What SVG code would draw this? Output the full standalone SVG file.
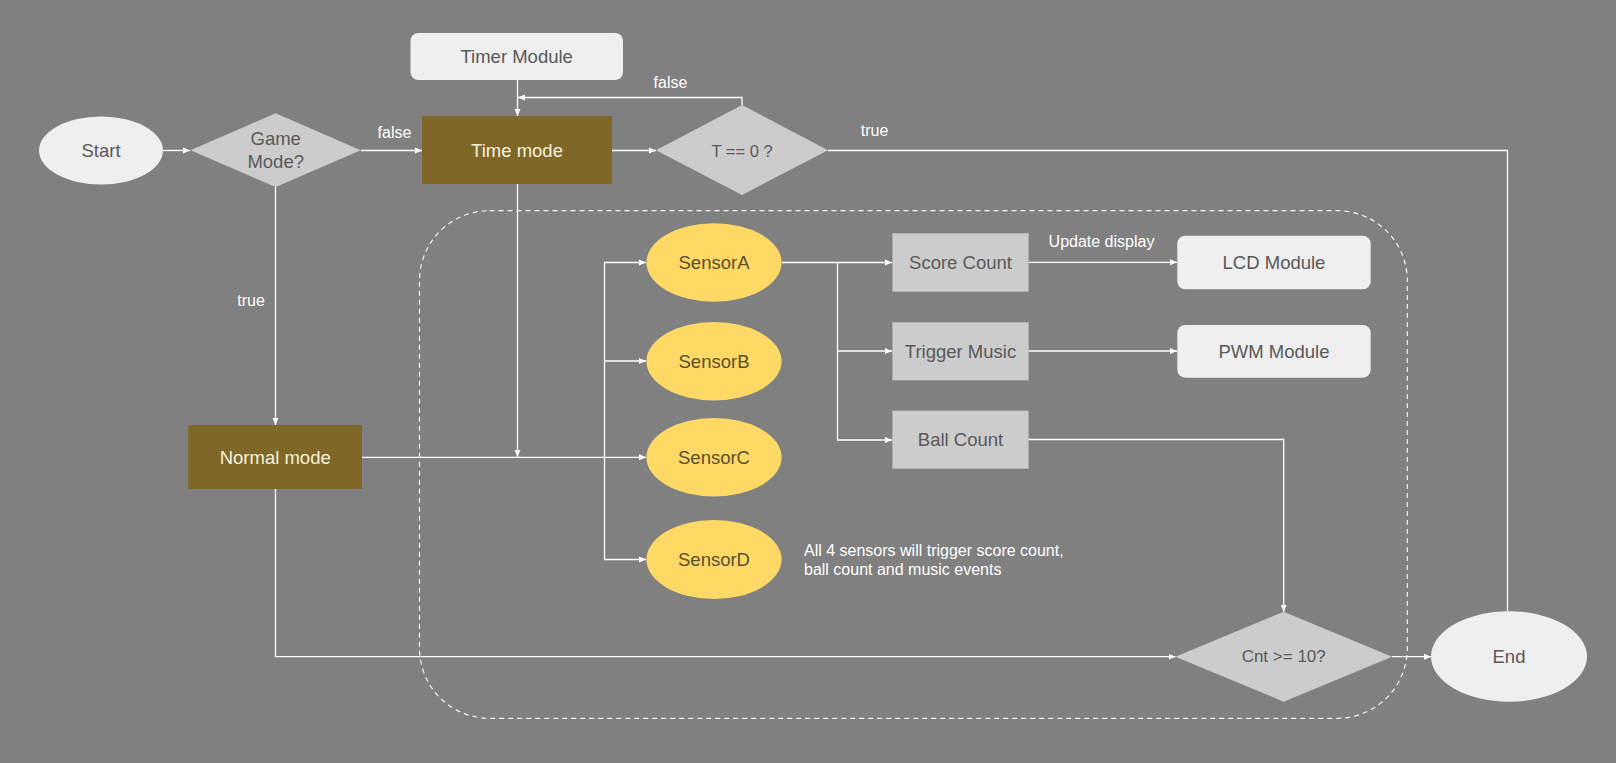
<svg xmlns="http://www.w3.org/2000/svg" width="1616" height="763" viewBox="0 0 1616 763">
<defs>
<marker id="arr" markerUnits="userSpaceOnUse" markerWidth="8" markerHeight="8" viewBox="0 0 8 8" refX="7" refY="4" orient="auto">
<path d="M0,1 L7,4 L0,7 Z" fill="#ffffff"/>
</marker>
<style>
.c{fill:none;stroke:#ffffff;stroke-width:1.3}
.t{font-family:"Liberation Sans",Arial,sans-serif;text-anchor:middle;dominant-baseline:central}
.lbl{font-family:"Liberation Sans",Arial,sans-serif;font-size:16px;fill:#ffffff}
.light{fill:#efefef}
.gray{fill:#cccccc}
.brown{fill:#7f6728}
.sensor{fill:#ffd966}
.dk{fill:#595959;font-size:18.5px}
.cream{fill:#f7f2dc;font-size:18.5px}
.sn{fill:#594f33;font-size:18.5px}
</style>
</defs>
<rect width="1616" height="763" fill="#808080"/>
<rect x="419.5" y="210.7" width="987.8" height="507.6" rx="70" ry="70" fill="none" stroke="#f2f2f2" stroke-width="1.2" stroke-dasharray="5,4"/>

<g id="connectors">
<path class="c" d="M163 150.5 H190" marker-end="url(#arr)"/>
<path class="c" d="M361 150.5 L422 150.5" marker-end="url(#arr)"/>
<path class="c" d="M517.5 80 V116" marker-end="url(#arr)"/>
<path class="c" d="M612 150.5 H656" marker-end="url(#arr)"/>
<path class="c" d="M742 105 V97.5 H518" marker-end="url(#arr)"/>
<path class="c" d="M828 150.5 H1507.5 V611"/>
<path class="c" d="M275.5 187 V425" marker-end="url(#arr)"/>
<path class="c" d="M517.5 184 V457" marker-end="url(#arr)"/>
<path class="c" d="M362 457.3 H646" marker-end="url(#arr)"/>
<path class="c" d="M604.5 457.3 V262.5 H646" marker-end="url(#arr)"/>
<path class="c" d="M604.5 361 H646" marker-end="url(#arr)"/>
<path class="c" d="M604.5 457.3 V559.5 H646" marker-end="url(#arr)"/>
<path class="c" d="M782 262.5 H892" marker-end="url(#arr)"/>
<path class="c" d="M837.5 262.5 V440 H892" marker-end="url(#arr)"/>
<path class="c" d="M837.5 351 H892" marker-end="url(#arr)"/>
<path class="c" d="M1028.6 262.3 H1177" marker-end="url(#arr)"/>
<path class="c" d="M1028.6 351 H1177" marker-end="url(#arr)"/>
<path class="c" d="M1028.6 439.5 H1283.7 V611.7" marker-end="url(#arr)"/>
<path class="c" d="M275.5 489 V656.7 H1175.5" marker-end="url(#arr)"/>
<path class="c" d="M1392 656.7 H1431" marker-end="url(#arr)"/>
<text class="lbl" x="394.5" y="137.5" text-anchor="middle">false</text>
<text class="lbl" x="670.5" y="88" text-anchor="middle">false</text>
<text class="lbl" x="874.5" y="136" text-anchor="middle">true</text>
<text class="lbl" x="251" y="306" text-anchor="middle">true</text>
<text class="lbl" x="1101.5" y="247" text-anchor="middle">Update display</text>
<text class="lbl" x="804" y="555.5">All 4 sensors will trigger score count,</text>
<text class="lbl" x="804" y="575">ball count and music events</text>
</g>

<g id="start"><ellipse class="light" cx="101" cy="150.5" rx="62" ry="34"/><text class="t dk" x="101" y="150.5">Start</text></g>
<g id="gamemode"><polygon class="gray" points="190.5,150.3 275.7,113.3 360.7,150.3 275.7,187"/><text class="t dk" x="275.7" y="138">Game</text><text class="t dk" x="275.7" y="161.5">Mode?</text></g>
<g id="timer"><rect class="light" x="410.5" y="33" width="212.5" height="47" rx="8"/><text class="t dk" x="516.7" y="56.5">Timer Module</text></g>
<g id="timemode"><rect class="brown" x="422" y="116" width="190" height="68"/><text class="t cream" x="517" y="150.5">Time mode</text></g>
<g id="t0"><polygon class="gray" points="656,150.3 742,105 828,150.3 742,195"/><text class="t" x="742" y="150.5" fill="#595959" font-size="16.5">T == 0 ?</text></g>
<g id="normal"><rect class="brown" x="188.3" y="425" width="173.7" height="64"/><text class="t cream" x="275.2" y="457.3">Normal mode</text></g>
<g id="sensorA"><ellipse class="sensor" cx="714" cy="262.5" rx="67.6" ry="39.2"/><text class="t sn" x="714" y="262.5">SensorA</text></g>
<g id="sensorB"><ellipse class="sensor" cx="714" cy="361.3" rx="67.6" ry="39.2"/><text class="t sn" x="714" y="361.3">SensorB</text></g>
<g id="sensorC"><ellipse class="sensor" cx="714" cy="457.3" rx="67.6" ry="39.2"/><text class="t sn" x="714" y="457.3">SensorC</text></g>
<g id="sensorD"><ellipse class="sensor" cx="714" cy="559.5" rx="67.6" ry="39.5"/><text class="t sn" x="714" y="559.5">SensorD</text></g>
<g id="score"><rect class="gray" x="892.4" y="233.3" width="136.2" height="58.4"/><text class="t dk" x="960.5" y="262.5">Score Count</text></g>
<g id="music"><rect class="gray" x="892.4" y="322.3" width="136.2" height="58"/><text class="t dk" x="960.5" y="351.3">Trigger Music</text></g>
<g id="ball"><rect class="gray" x="892.4" y="410.7" width="136.2" height="58"/><text class="t dk" x="960.5" y="439.7">Ball Count</text></g>
<g id="lcd"><rect class="light" x="1177.3" y="235.7" width="193.4" height="53.6" rx="8"/><text class="t dk" x="1274" y="262.5">LCD Module</text></g>
<g id="pwm"><rect class="light" x="1177.3" y="325" width="193.4" height="52.7" rx="8"/><text class="t dk" x="1274" y="351.3">PWM Module</text></g>
<g id="cnt"><polygon class="gray" points="1175.5,656.7 1283.7,611.7 1392,656.7 1283.7,701.7"/><text class="t" x="1283.7" y="656.7" fill="#595959" font-size="17">Cnt &gt;= 10?</text></g>
<g id="end"><ellipse class="light" cx="1509" cy="656.5" rx="78" ry="45.3"/><text class="t dk" x="1509" y="656.5">End</text></g>
</svg>
